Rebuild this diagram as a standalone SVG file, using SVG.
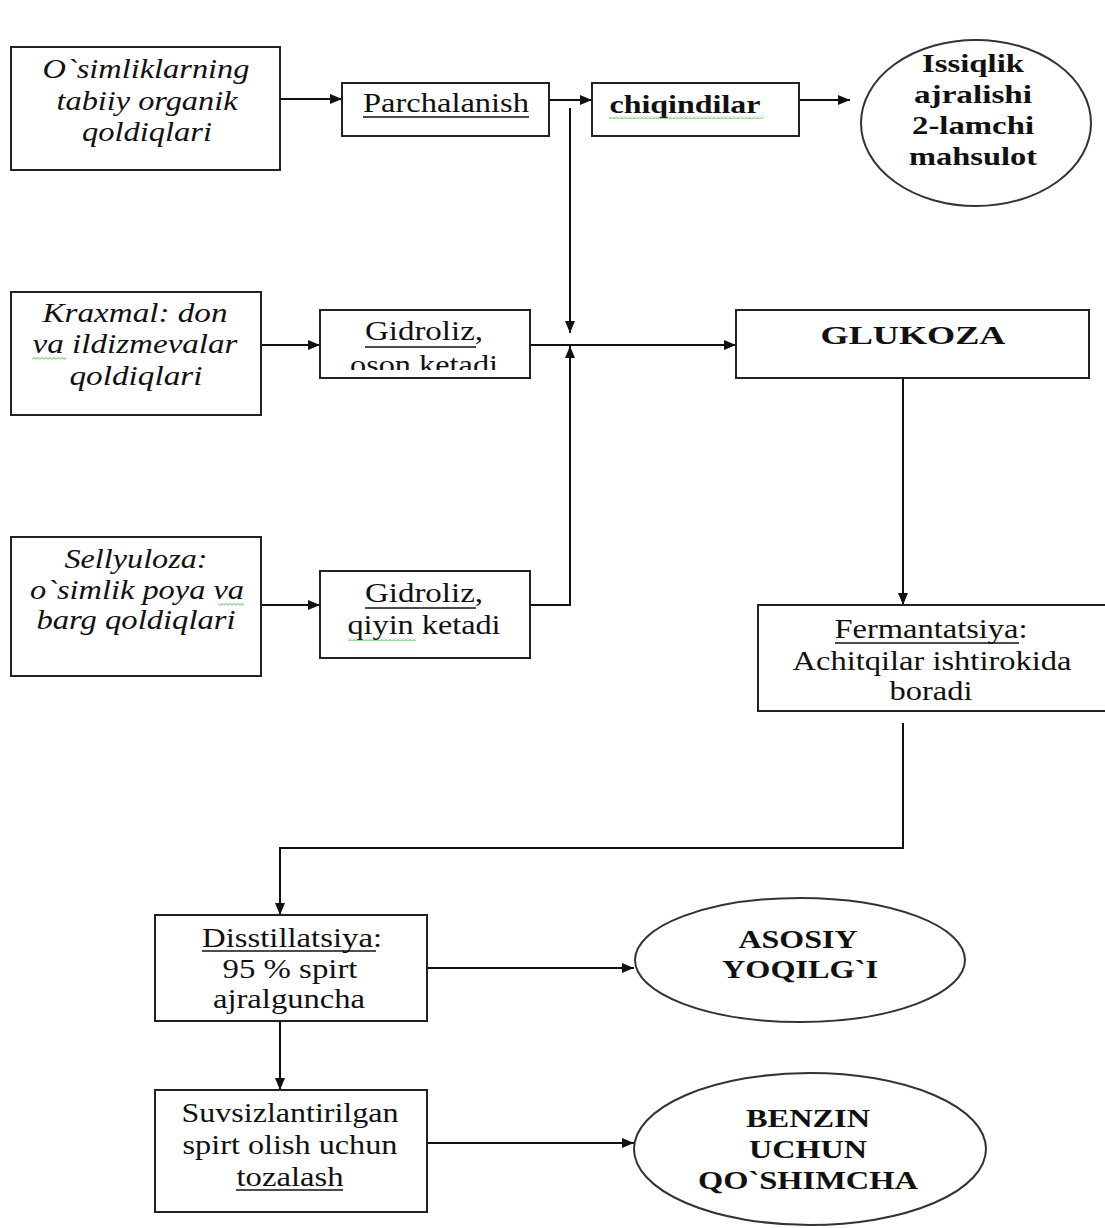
<svg xmlns="http://www.w3.org/2000/svg" width="1105" height="1228" viewBox="0 0 1105 1228">
<style>
.box{fill:#fff;stroke:#222;stroke-width:2}
.ell{fill:#fff;stroke:#333;stroke-width:2}
.it{font-family:"Liberation Serif",serif;font-style:italic;font-size:28px;fill:#111}
.rg{font-family:"Liberation Serif",serif;font-size:28px;fill:#111}
.rs{font-family:"Liberation Serif",serif;font-size:27px;fill:#111}
.bd{font-family:"Liberation Serif",serif;font-weight:bold;font-size:26px;fill:#111}
.ul{stroke:#111;stroke-width:1.5}
.con{fill:none;stroke:#111;stroke-width:2}
</style>
<defs>
<marker id="ah" viewBox="0 0 12 10" refX="12" refY="5" markerWidth="12" markerHeight="10" markerUnits="userSpaceOnUse" orient="auto">
<path d="M0,0 L12,5 L0,10 z" fill="#111"/>
</marker>
<pattern id="wave" width="4" height="3" patternUnits="userSpaceOnUse">
<path d="M0,2.5 L2,0.5 L4,2.5" fill="none" stroke="#3aa53a" stroke-width="0.9"/>
</pattern>
<clipPath id="clipOson"><rect x="321" y="311" width="208" height="59"/></clipPath>
</defs>
<rect width="1105" height="1228" fill="#fff"/>

<g id="connectors">
<path class="con" d="M280,99 H342" marker-end="url(#ah)"/>
<path class="con" d="M549,100 H592" marker-end="url(#ah)"/>
<path class="con" d="M799,100 H850" marker-end="url(#ah)"/>
<path class="con" d="M570,108 V333" marker-end="url(#ah)"/>
<path class="con" d="M261,345 H320" marker-end="url(#ah)"/>
<path class="con" d="M530,345 H736" marker-end="url(#ah)"/>
<path class="con" d="M530,605 H570 V346" marker-end="url(#ah)"/>
<path class="con" d="M261,605 H320" marker-end="url(#ah)"/>
<path class="con" d="M903,378 V605" marker-end="url(#ah)"/>
<path class="con" d="M903,723 V848 H280 V915" marker-end="url(#ah)"/>
<path class="con" d="M427,968 H634" marker-end="url(#ah)"/>
<path class="con" d="M280,1021 V1090" marker-end="url(#ah)"/>
<path class="con" d="M427,1143 H634" marker-end="url(#ah)"/>
</g>

<g id="n-osimliklar">
<rect class="box" x="11" y="47" width="269" height="123"/>
<text class="it" x="146" y="78" text-anchor="middle" textLength="207" lengthAdjust="spacingAndGlyphs">O`simliklarning</text>
<text class="it" x="147" y="110" text-anchor="middle" textLength="181" lengthAdjust="spacingAndGlyphs">tabiiy organik</text>
<text class="it" x="147" y="141" text-anchor="middle" textLength="130" lengthAdjust="spacingAndGlyphs">qoldiqlari</text>
</g>

<g id="n-parchalanish">
<rect class="box" x="342" y="83" width="207" height="53"/>
<text class="rg" x="446" y="112" text-anchor="middle" textLength="166" lengthAdjust="spacingAndGlyphs">Parchalanish</text>
<line class="ul" x1="363" y1="117" x2="529" y2="117"/>
</g>

<g id="n-chiqindilar">
<rect class="box" x="592" y="83" width="207" height="53"/>
<text class="bd" x="685" y="113" text-anchor="middle" textLength="151" lengthAdjust="spacingAndGlyphs">chiqindilar</text>
<rect x="609" y="116" width="154" height="3" fill="url(#wave)"/>
</g>

<g id="n-issiqlik">
<ellipse class="ell" cx="976" cy="123" rx="115" ry="83"/>
<text class="bd" x="973" y="72" text-anchor="middle" textLength="102" lengthAdjust="spacingAndGlyphs">Issiqlik</text>
<text class="bd" x="973" y="103" text-anchor="middle" textLength="118" lengthAdjust="spacingAndGlyphs">ajralishi</text>
<text class="bd" x="973" y="134" text-anchor="middle" textLength="122" lengthAdjust="spacingAndGlyphs">2-lamchi</text>
<text class="bd" x="973" y="165" text-anchor="middle" textLength="128" lengthAdjust="spacingAndGlyphs">mahsulot</text>
</g>

<g id="n-kraxmal">
<rect class="box" x="11" y="292" width="250" height="123"/>
<text class="it" x="135" y="322" text-anchor="middle" textLength="185" lengthAdjust="spacingAndGlyphs">Kraxmal: don</text>
<text class="it" x="135" y="353" text-anchor="middle" textLength="205" lengthAdjust="spacingAndGlyphs">va ildizmevalar</text>
<rect x="32" y="357" width="34" height="3" fill="url(#wave)"/>
<text class="it" x="136" y="385" text-anchor="middle" textLength="133" lengthAdjust="spacingAndGlyphs">qoldiqlari</text>
</g>

<g id="n-gidroliz-oson">
<rect class="box" x="320" y="310" width="210" height="68"/>
<text class="rg" x="424" y="340" text-anchor="middle" textLength="118" lengthAdjust="spacingAndGlyphs">Gidroliz,</text>
<line class="ul" x1="365" y1="347" x2="476" y2="347"/>
<text class="rg" x="424" y="374" text-anchor="middle" textLength="148" lengthAdjust="spacingAndGlyphs" clip-path="url(#clipOson)">oson ketadi</text>
</g>

<g id="n-glukoza">
<rect class="box" x="736" y="310" width="353" height="68"/>
<text class="bd" x="913" y="344" text-anchor="middle" font-size="29" textLength="185" lengthAdjust="spacingAndGlyphs">GLUKOZA</text>
</g>

<g id="n-sellyuloza">
<rect class="box" x="11" y="537" width="250" height="139"/>
<text class="it" x="136" y="568" text-anchor="middle" textLength="143" lengthAdjust="spacingAndGlyphs">Sellyuloza:</text>
<text class="it" x="137" y="599" text-anchor="middle" textLength="214" lengthAdjust="spacingAndGlyphs">o`simlik poya va</text>
<rect x="218" y="603" width="26" height="3" fill="url(#wave)"/>
<text class="it" x="136" y="629" text-anchor="middle" textLength="199" lengthAdjust="spacingAndGlyphs">barg qoldiqlari</text>
</g>

<g id="n-gidroliz-qiyin">
<rect class="box" x="320" y="571" width="210" height="87"/>
<text class="rg" x="424" y="602" text-anchor="middle" textLength="118" lengthAdjust="spacingAndGlyphs">Gidroliz,</text>
<line class="ul" x1="365" y1="608" x2="476" y2="608"/>
<text class="rg" x="424" y="634" text-anchor="middle" textLength="153" lengthAdjust="spacingAndGlyphs">qiyin ketadi</text>
<rect x="348" y="638" width="68" height="3" fill="url(#wave)"/>
</g>

<g id="n-fermantatsiya">
<rect class="box" x="758" y="605" width="350" height="106"/>
<text class="rg" x="931" y="638" text-anchor="middle" textLength="193" lengthAdjust="spacingAndGlyphs">Fermantatsiya:</text>
<line class="ul" x1="835" y1="643" x2="1019" y2="643"/>
<text class="rg" x="932" y="670" text-anchor="middle" textLength="279" lengthAdjust="spacingAndGlyphs">Achitqilar ishtirokida</text>
<text class="rg" x="931" y="700" text-anchor="middle" textLength="83" lengthAdjust="spacingAndGlyphs">boradi</text>
</g>

<g id="n-disstillatsiya">
<rect class="box" x="155" y="915" width="272" height="106"/>
<text class="rs" x="292" y="947" text-anchor="middle" textLength="180" lengthAdjust="spacingAndGlyphs">Disstillatsiya:</text>
<line class="ul" x1="202" y1="951" x2="376" y2="951"/>
<text class="rs" x="290" y="978" text-anchor="middle" textLength="135" lengthAdjust="spacingAndGlyphs">95 % spirt</text>
<text class="rs" x="289" y="1008" text-anchor="middle" textLength="152" lengthAdjust="spacingAndGlyphs">ajralguncha</text>
</g>

<g id="n-asosiy">
<ellipse class="ell" cx="800" cy="960" rx="165" ry="62"/>
<text class="bd" x="798" y="948" text-anchor="middle" textLength="119" lengthAdjust="spacingAndGlyphs">ASOSIY</text>
<text class="bd" x="800" y="978" text-anchor="middle" textLength="156" lengthAdjust="spacingAndGlyphs">YOQILG`I</text>
</g>

<g id="n-suvsizlantirilgan">
<rect class="box" x="155" y="1090" width="272" height="122"/>
<text class="rs" x="290" y="1122" text-anchor="middle" textLength="217" lengthAdjust="spacingAndGlyphs">Suvsizlantirilgan</text>
<text class="rs" x="290" y="1154" text-anchor="middle" textLength="215" lengthAdjust="spacingAndGlyphs">spirt olish uchun</text>
<text class="rs" x="290" y="1186" text-anchor="middle" textLength="107" lengthAdjust="spacingAndGlyphs">tozalash</text>
<line class="ul" x1="236" y1="1190" x2="343" y2="1190"/>
</g>

<g id="n-benzin">
<ellipse class="ell" cx="810" cy="1149" rx="176" ry="76"/>
<text class="bd" x="808" y="1127" text-anchor="middle" textLength="124" lengthAdjust="spacingAndGlyphs">BENZIN</text>
<text class="bd" x="808" y="1158" text-anchor="middle" textLength="118" lengthAdjust="spacingAndGlyphs">UCHUN</text>
<text class="bd" x="808" y="1189" text-anchor="middle" textLength="220" lengthAdjust="spacingAndGlyphs">QO`SHIMCHA</text>
</g>
</svg>
